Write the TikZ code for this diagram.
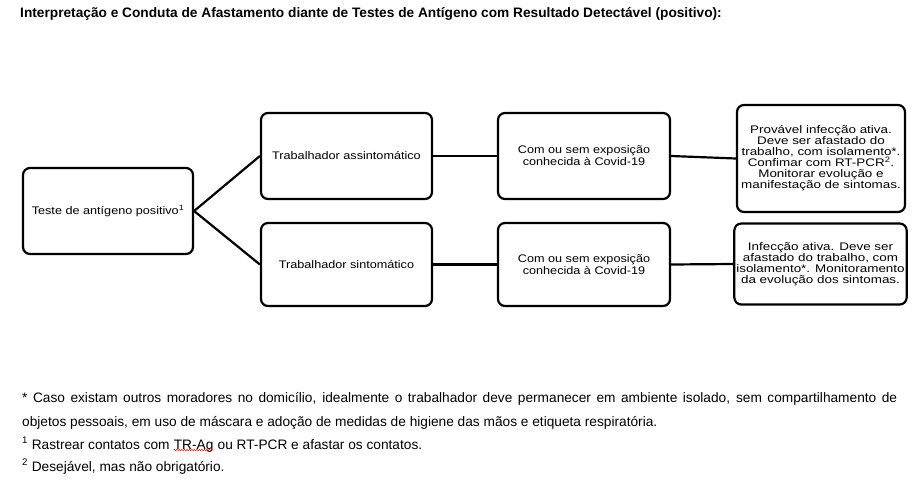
\documentclass[tikz,border=0pt]{standalone}
\usepackage{fontspec}
\setmainfont{Liberation Sans}
\newfontfamily\boxfont[FakeStretch=1.15]{Liberation Sans}
\newfontfamily\widefont[FakeStretch=1.22]{Liberation Sans}
\usetikzlibrary{positioning,decorations.pathmorphing}

\begin{document}
\begin{tikzpicture}[x=1pt,y=-1pt,
  box/.style={draw,line width=2.2pt,rounded corners=7pt,align=center,
    minimum width=171pt,minimum height=86pt,inner sep=2pt,
    font=\boxfont\fontsize{11}{12}\selectfont},
  outcome/.style={box,minimum width=168pt,font=\widefont\fontsize{11}{11}\selectfont},
  note/.style={anchor=base west,inner sep=0pt,font=\fontsize{13.7}{15}\selectfont},
  link/.style={line width=2.2pt}
]
\useasboundingbox (0,0) rectangle (921,485);
\node[anchor=west,inner sep=0pt,font=\fontsize{13.7}{14}\selectfont\bfseries] (title) at (20,14)
  {Interpretação e Conduta de Afastamento diante de Testes de Antígeno com Resultado Detectável (positivo):};
% first column and the two groups
\node[box,minimum width=170pt] (test) at (108,211) {Teste de antígeno positivo\textsuperscript{1}};
\node[box] (asympt) at (346.5,156) {Trabalhador assintomático};
\node[box,minimum height=83pt] (sympt) at (346.5,264.5) {Trabalhador sintomático};
\node[box,minimum width=172pt] (expoA) at (584,156) {Com ou sem exposição\\conhecida à Covid-19};
\node[box,minimum width=172pt,minimum height=83pt] (expoS) at (584,264.5) {Com ou sem exposição\\conhecida à Covid-19};
\node[outcome,minimum height=107pt] (resA) at (821,158.5) {Provável infecção ativa.\\Deve ser afastado do\\trabalho, com isolamento*.\\Confimar com RT-PCR\textsuperscript{2}.\\Monitorar evolução e\\manifestação de sintomas.};
\node[outcome,minimum height=81pt] (resS) at (820.5,264) {Infecção ativa. Deve ser\\afastado do trabalho, com\\isolamento*. Monitoramento\\da evolução dos sintomas.};
\draw[link] (test.east) -- (asympt.west);
\draw[link] (test.east) -- (sympt.west);
\draw[link] (asympt) -- (expoA);
\draw[link] (sympt) -- (expoS);
\draw[link] (expoA.east) -- (resA.west);
\draw[link] (expoS.east) -- (resS.west);
% footnotes
\node[note] (note1) at (22,402) {\makebox[875pt][s]{* Caso existam outros moradores no domicílio, idealmente o trabalhador deve permanecer em ambiente isolado, sem compartilhamento de}};
\node[note] (note2) at (22,426) {objetos pessoais, em uso de máscara e adoção de medidas de higiene das mãos e etiqueta respiratória.};
\node[note] (note3) at (22,449) {\textsuperscript{1} Rastrear contatos com};
\node[note] (trag) at ([xshift=3.8pt]note3.base east) {TR-Ag};
\node[note] (note3b) at ([xshift=3.8pt]trag.base east) {ou RT-PCR e afastar os contatos.};
\node[note] (note4) at (22,471) {\textsuperscript{2} Desejável, mas não obrigatório.};
\draw[red,line width=0.5pt,decorate,decoration={snake,amplitude=0.7pt,segment length=2.5pt}]
  ([yshift=2pt]trag.south west) -- ([yshift=2pt]trag.south east);
\end{tikzpicture}
\end{document}
